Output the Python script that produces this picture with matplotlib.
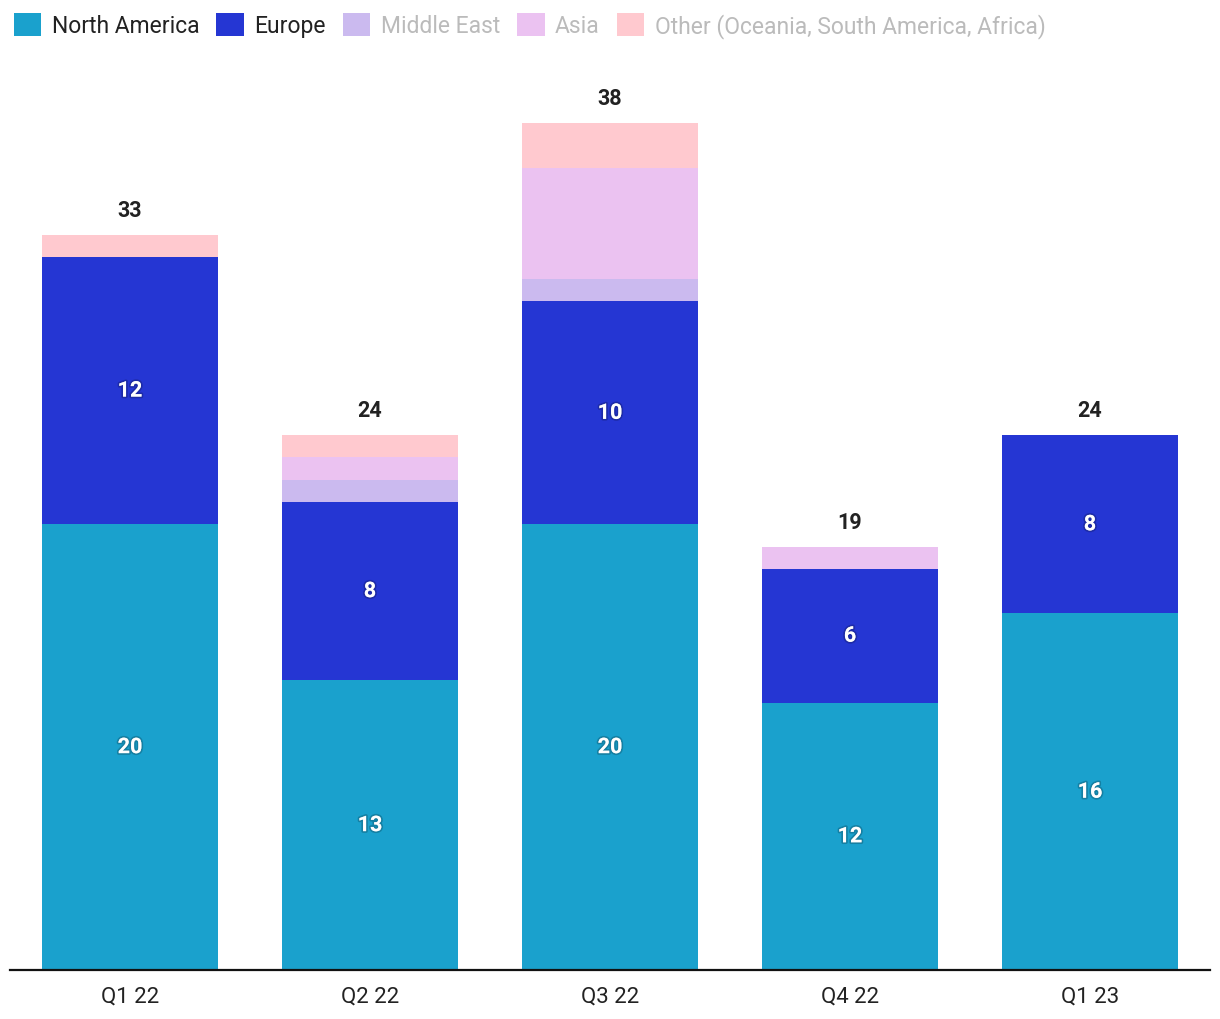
import matplotlib
matplotlib.use("Agg")
import matplotlib.pyplot as plt
import matplotlib.patheffects as pe
import numpy as np

plt.rcParams['font.family'] = ['Roboto', 'DejaVu Sans']

quarters = ["Q1 22", "Q2 22", "Q3 22", "Q4 22", "Q1 23"]
north_america = [20, 13, 20, 12, 16]
europe = [12, 8, 10, 6, 8]
middle_east = [0, 1, 1, 0, 0]
asia = [0, 1, 5, 1, 0]
other = [1, 1, 2, 0, 0]

series = [
    ("North America", north_america, "#1aa1cd"),
    ("Europe", europe, "#2536d3"),
    ("Middle East", middle_east, "#cbbaef"),
    ("Asia", asia, "#ebc2f1"),
    ("Other (Oceania, South America, Africa)", other, "#ffc9cf"),
]
legend_text_colors = ["#222222", "#222222", "#bbbbbb", "#bbbbbb", "#bbbbbb"]

fig = plt.figure(figsize=(12.2, 10.2), dpi=100)
ax = fig.add_axes([10 / 1220, 49 / 1020, 1200 / 1220, 936 / 1020])

x = np.arange(len(quarters))
bottom = np.zeros(len(quarters))
shadow = [pe.withStroke(linewidth=2.5, foreground=(0, 0, 0, 0.2))]
handles = []
for i, (name, vals, color) in enumerate(series):
    vals = np.array(vals, dtype=float)
    bars = ax.bar(x, vals, width=0.733, bottom=bottom, color=color, label=name)
    handles.append(bars)
    if i < 2:
        for xi, b, v in zip(x, bottom, vals):
            ax.text(xi, b + v / 2, f"{int(v)}", ha="center", va="center",
                    color="white", fontsize=15.5, fontweight="bold",
                    path_effects=shadow)
    bottom += vals

for xi, tot in zip(x, bottom):
    ax.annotate(f"{int(tot)}", (xi, tot), xytext=(0, 10), textcoords="offset points",
                ha="center", va="bottom", fontsize=15.5, fontweight="bold",
                color="#222222")

ax.set_xlim(-0.5, 4.5)
ax.set_ylim(0, 42)
ax.set_xticks(x)
ax.set_xticklabels(quarters, fontsize=16, color="#222222")
ax.tick_params(axis="x", length=0, pad=11)
ax.set_yticks([])
for s in ["top", "right", "left"]:
    ax.spines[s].set_visible(False)
ax.spines["bottom"].set_linewidth(1.6)
ax.spines["bottom"].set_color("#111111")

leg = fig.legend(handles=handles, loc="upper left", bbox_to_anchor=(0.0, 1.0),
                 ncol=5, frameon=False, fontsize=16.5, handlelength=1.2,
                 handleheight=1.2, handletextpad=0.45, columnspacing=0.75,
                 borderaxespad=0.2)
for t, c in zip(leg.get_texts(), legend_text_colors):
    t.set_color(c)

plt.savefig("out.png", dpi=100)
